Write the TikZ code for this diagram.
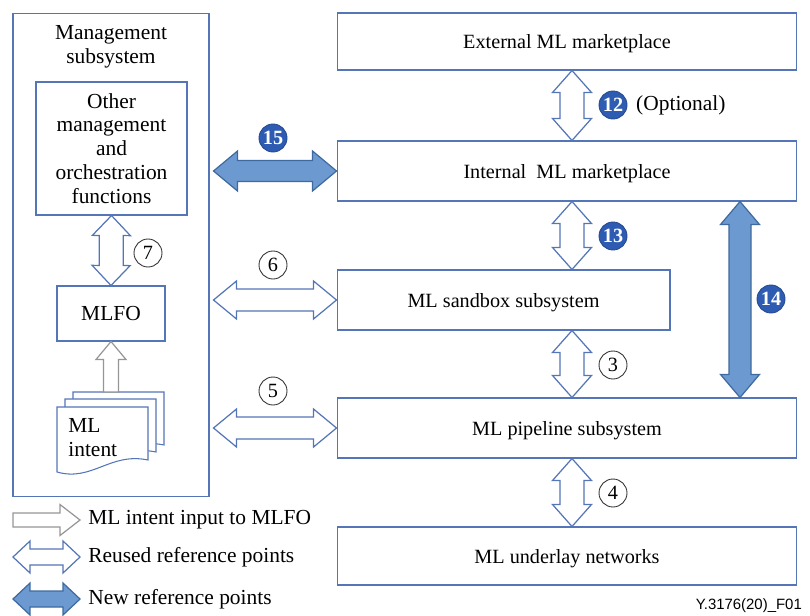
\documentclass[tikz,border=0pt]{standalone}
\usepackage{fontspec}
\setmainfont{Liberation Serif}
\setsansfont{Liberation Sans}
\usetikzlibrary{calc}
\definecolor{boxblue}{RGB}{84,118,184}
\definecolor{arrfill}{RGB}{108,154,208}
\definecolor{arrline}{RGB}{62,106,160}
\definecolor{numblue}{RGB}{46,92,178}
\definecolor{intentgray}{RGB}{150,150,150}
% double block arrow: style, from, to, head length, half head, half shaft
\newcommand{\dblarrow}[6]{\draw[#1] (#2) -- ($(#2)!#4!(#3)!#5!90:(#3)$) -- ($(#2)!#4!(#3)!#6!90:(#3)$) -- ($(#3)!#4!(#2)!#6!-90:(#2)$) -- ($(#3)!#4!(#2)!#5!-90:(#2)$) -- (#3) -- ($(#3)!#4!(#2)!#5!90:(#2)$) -- ($(#3)!#4!(#2)!#6!90:(#2)$) -- ($(#2)!#4!(#3)!#6!-90:(#3)$) -- ($(#2)!#4!(#3)!#5!-90:(#3)$) -- cycle;}
% single block arrow: style, from, to, head length, half head, half shaft
\newcommand{\sglarrow}[6]{\draw[#1] ($(#2)!#6!90:(#3)$) -- ($(#3)!#4!(#2)!#6!-90:(#2)$) -- ($(#3)!#4!(#2)!#5!-90:(#2)$) -- (#3) -- ($(#3)!#4!(#2)!#5!90:(#2)$) -- ($(#3)!#4!(#2)!#6!90:(#2)$) -- ($(#2)!#6!-90:(#3)$) -- cycle;}
\newcommand{\mldoc}[1]{\draw[line width=0.6pt, boxblue, fill=white, shift={(#1)}] (57,407) -- (148,407) -- (148,460) .. controls (110,452) and (92,482) .. (57,472) -- cycle;}
\begin{document}
\begin{tikzpicture}[x=0.02cm, y=-0.02cm, font=\fontsize{12.2}{13.6}\selectfont,
  box/.style={draw=boxblue, line width=0.6pt, inner sep=1pt},
  rbox/.style={box, font=\fontsize{11.5}{13.6}\selectfont, text height=0.36cm, text depth=0.08cm},
  openarr/.style={draw=boxblue, line width=0.7pt, fill=white, line join=miter},
  newarr/.style={draw=arrline, line width=0.7pt, fill=arrfill, line join=miter},
  grayarr/.style={draw=intentgray, line width=0.7pt, fill=white, line join=miter},
  numw/.style={circle, draw=black!80, line width=0.5pt, fill=white, font=\fontsize{11.5}{12}\selectfont, minimum size=0.56cm, inner sep=0pt},
  numb/.style={circle, draw=numblue!80!black, line width=0.5pt, fill=numblue, text=white, font=\fontsize{11.5}{12}\selectfont\bfseries, minimum size=0.56cm, inner sep=0pt}]
\useasboundingbox (0,0) rectangle (810,615);
% management side
\node[box, minimum width=3.92cm, minimum height=9.68cm] (mgmt) at (111,255){};
\node[align=center] (mgmtlabel) at (111,47){Management\\subsystem};
\node[box, align=center, minimum width=3.02cm, minimum height=2.66cm] (other) at (111.5,148.5){Other\\management\\and\\orchestration\\functions};
\node[box, minimum width=2.16cm, minimum height=1.1cm] (mlfo) at (111,313.5){MLFO};
\mldoc{16,-15}
\mldoc{8,-8}
\mldoc{0,0}
\node[align=left, anchor=west, inner sep=0pt] (intent) at (68,438){ML\\intent};
\coordinate (stacktop) at (111,392);
% right side boxes
\node[rbox, minimum width=9.2cm, minimum height=1.14cm] (ext) at (567,41.5){External ML marketplace};
\node[rbox, minimum width=9.2cm, minimum height=1.2cm] (int) at (567,171){Internal~ ML marketplace};
\node[rbox, minimum width=6.66cm, minimum height=1.2cm] (sand) at (503.5,300){ML sandbox subsystem};
\node[rbox, minimum width=9.2cm, minimum height=1.2cm] (pipe) at (567,428){ML pipeline subsystem};
\node[rbox, minimum width=9.2cm, minimum height=1.16cm] (under) at (567,556){ML underlay networks};
\coordinate (xc) at (572,0);
\coordinate (x14) at (740,0);
\coordinate (l15) at ($(mgmt.east |- int.west)+(4,0)$);
\coordinate (l6) at ($(mgmt.east |- sand.west)+(4,0)$);
\coordinate (l5) at ($(mgmt.east |- pipe.west)+(4,0)$);
% reference points
\dblarrow{openarr}{ext.south -| xc}{int.north -| xc}{0.44cm}{0.39cm}{0.24cm}
\dblarrow{openarr}{int.south -| xc}{sand.north -| xc}{0.44cm}{0.39cm}{0.24cm}
\dblarrow{openarr}{sand.south -| xc}{pipe.north -| xc}{0.44cm}{0.39cm}{0.24cm}
\dblarrow{openarr}{pipe.south -| xc}{under.north -| xc}{0.44cm}{0.39cm}{0.24cm}
\dblarrow{newarr}{int.south -| x14}{pipe.north -| x14}{0.46cm}{0.39cm}{0.22cm}
\dblarrow{newarr}{l15}{int.west}{0.48cm}{0.4cm}{0.21cm}
\dblarrow{openarr}{l6}{sand.west}{0.46cm}{0.38cm}{0.22cm}
\dblarrow{openarr}{l5}{pipe.west}{0.46cm}{0.38cm}{0.22cm}
\dblarrow{openarr}{other.south}{mlfo.north}{0.4cm}{0.38cm}{0.24cm}
\sglarrow{grayarr}{stacktop}{mlfo.south}{0.36cm}{0.3cm}{0.15cm}
\node[numb] (n12) at (613,105){12};
\node[anchor=west, font=\fontsize{12.2}{13.6}\selectfont] (optional) at (630,105){(Optional)};
\node[numb] (n13) at (613,236){13};
\node[numw] (n3) at (613,365){3};
\node[numw] (n4) at (613,493){4};
\node[numb] (n14) at (771,299){14};
\node[numb] (n15) at (273,138){15};
\node[numw] (n6) at (273,265){6};
\node[numw] (n5) at (273,391){5};
\node[numw] (n7) at (148,253){7};
% legend
\coordinate (lg1a) at (13,520);
\coordinate (lg1b) at (80,520);
\coordinate (lg2a) at (13,557);
\coordinate (lg2b) at (80,557);
\coordinate (lg3a) at (13,599);
\coordinate (lg3b) at (80,599);
\sglarrow{grayarr}{lg1a}{lg1b}{0.4cm}{0.31cm}{0.14cm}
\dblarrow{openarr}{lg2a}{lg2b}{0.34cm}{0.32cm}{0.16cm}
\dblarrow{newarr}{lg3a}{lg3b}{0.34cm}{0.32cm}{0.16cm}
\node[anchor=west, inner sep=0pt] (lgtext1) at (88,520){ML intent input to MLFO};
\node[anchor=west, inner sep=0pt] (lgtext2) at (88,557){Reused reference points};
\node[anchor=west, inner sep=0pt] (lgtext3) at (88,599){New reference points};
\node[anchor=east, font=\sffamily\fontsize{8.5}{10}\selectfont] (figid) at (808,606){Y.3176(20)\_F01};
\end{tikzpicture}
\end{document}
